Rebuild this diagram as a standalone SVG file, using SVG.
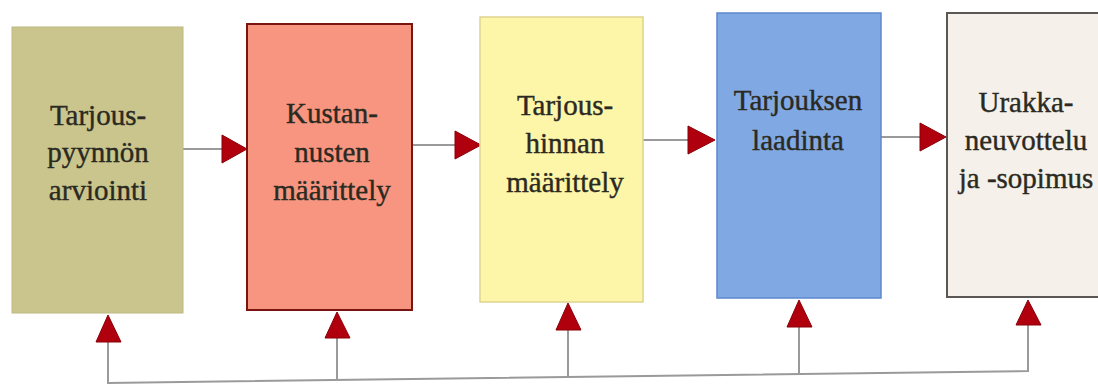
<svg xmlns="http://www.w3.org/2000/svg" width="1098" height="385" viewBox="0 0 1098 385">
<style>
.lbl{font-family:'Liberation Serif','DejaVu Serif','Times New Roman',Times,serif;font-size:29px;fill:#2b2a22;stroke:#2b2a22;stroke-width:0.4;text-anchor:middle}
.ln{stroke:#9a9a9a;stroke-width:2;fill:none}
.ah{fill:#b0000e;stroke:#8a0008;stroke-width:1}
</style>
<rect width="1098" height="385" fill="#ffffff"/>
<g id="connectors">
<line class="ln" x1="183" y1="149" x2="224" y2="149"/>
<polygon class="ah" points="222,135 247,149 222,163"/>
<line class="ln" x1="412" y1="145" x2="457" y2="145"/>
<polygon class="ah" points="455,131 481,145 455,159"/>
<line class="ln" x1="643" y1="140" x2="690" y2="140"/>
<polygon class="ah" points="688,126 715,140 688,154"/>
<line class="ln" x1="881" y1="137" x2="922" y2="137"/>
<polygon class="ah" points="920,123 946,137 920,151"/>
<polyline class="ln" points="108,342 108,383 1028,371 1028,325"/>
<line class="ln" x1="337" y1="338" x2="337" y2="380"/>
<line class="ln" x1="568" y1="330" x2="568" y2="377"/>
<line class="ln" x1="799" y1="327" x2="799" y2="374"/>
<polygon class="ah" points="108,315 96,342 121,342"/>
<polygon class="ah" points="337,312 325,338 350,338"/>
<polygon class="ah" points="568,303 556,330 581,330"/>
<polygon class="ah" points="799,300 787,327 812,327"/>
<polygon class="ah" points="1028,300 1016,325 1041,325"/>
</g>
<g id="n1">
<rect x="12" y="27" width="171" height="286" fill="#c9c58d" stroke="#bdb982" stroke-width="1"/>
<text class="lbl" x="98" y="125">Tarjous-</text>
<text class="lbl" x="98" y="162">pyynnön</text>
<text class="lbl" x="98" y="200">arviointi</text>
</g>
<g id="n2">
<rect x="247" y="24" width="165" height="286" fill="#f79580" stroke="#7a1410" stroke-width="2"/>
<text class="lbl" x="332" y="123">Kustan-</text>
<text class="lbl" x="332" y="162">nusten</text>
<text class="lbl" x="332" y="200">määrittely</text>
</g>
<g id="n3">
<rect x="480" y="17" width="163" height="285" fill="#fdf5a8" stroke="#ddd48f" stroke-width="1.5"/>
<text class="lbl" x="565" y="115">Tarjous-</text>
<text class="lbl" x="565" y="153">hinnan</text>
<text class="lbl" x="565" y="192">määrittely</text>
</g>
<g id="n4">
<rect x="717" y="13" width="164" height="285" fill="#80a8e2" stroke="#5c88cf" stroke-width="1.5"/>
<text class="lbl" x="798" y="110">Tarjouksen</text>
<text class="lbl" x="798" y="150">laadinta</text>
</g>
<g id="n5">
<rect x="947" y="13" width="165" height="284" fill="#f5f0ea" stroke="#5a5755" stroke-width="2"/>
<text class="lbl" x="1026" y="112">Urakka-</text>
<text class="lbl" x="1026" y="150">neuvottelu</text>
<text class="lbl" x="1026" y="188">ja -sopimus</text>
</g>
</svg>
